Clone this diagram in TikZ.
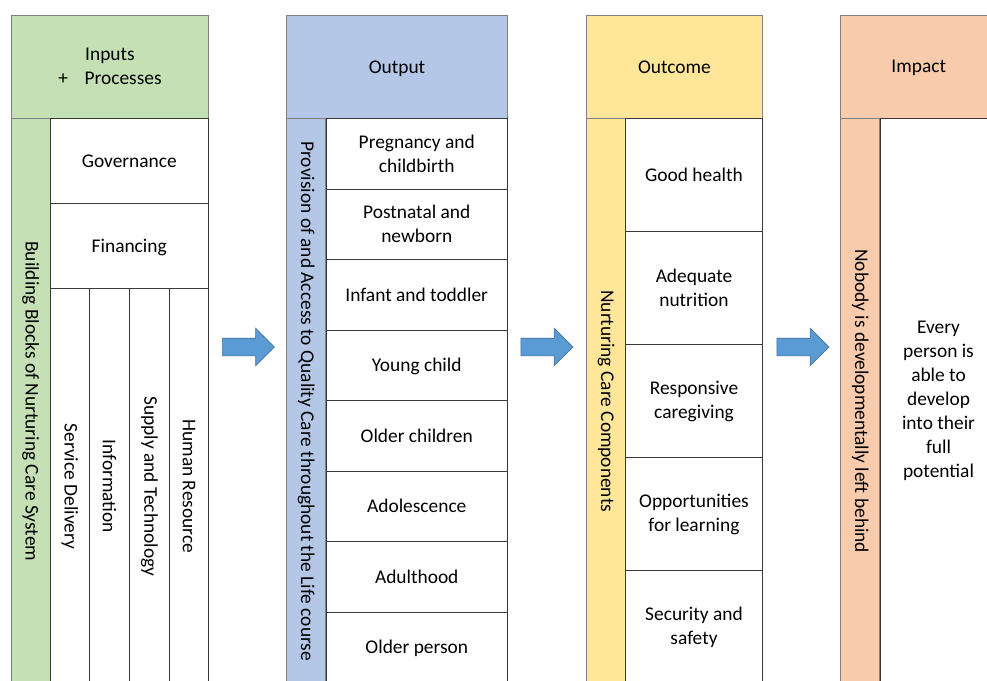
\documentclass[tikz,border=0pt]{standalone}
\usepackage{fontspec}
\setmainfont{Carlito}
\usetikzlibrary{positioning, shapes.arrows}
\definecolor{inputgreen}{HTML}{C5E0B4}
\definecolor{outputblue}{HTML}{B4C7E7}
\definecolor{outcomeyellow}{HTML}{FFE699}
\definecolor{impactpeach}{HTML}{F8CBAD}
\definecolor{arrowfill}{HTML}{5B9BD5}
\definecolor{arrowedge}{HTML}{41719C}
\tikzset{
  cell/.style={draw=black!78, line width=0.8pt, inner sep=1pt, outer sep=0pt,
    align=center, font=\fontsize{19.4}{24}\selectfont},
  head/.style={cell, draw=black!50, anchor=north west, minimum height=103.5pt},
  flat/.style={text depth=0pt},
  strip/.style={cell, draw=black!50, rotate=-90, minimum width=565.5pt, minimum height=39pt},
  block/.style={cell, rotate=-90, minimum width=395.5pt, minimum height=39.5pt},
  stage/.style={cell, minimum width=181.5pt, minimum height=70.5pt},
  part/.style={cell, minimum width=137pt, minimum height=113pt},
  bigarrow/.style={single arrow, draw=arrowedge, line width=0.6pt, fill=arrowfill,
    inner sep=8.5pt, single arrow head extend=10pt, single arrow head indent=0pt,
    minimum height=52pt}
}
\begin{document}
\begin{tikzpicture}[x=1pt, y=-1pt]
    \useasboundingbox (0,0) rectangle (987,680);
    \clip (0,0) rectangle (987,680);

    % inputs and processes
    \node[head, fill=inputgreen, minimum width=197pt] (inputs) at (11.5,15)
      {Inputs\\+\hspace{0.85em}Processes};
    \node[strip, fill=inputgreen] (blocks) at (30.75,401.25)
      {Building Blocks of Nurturing Care System};
    \node[cell, flat, anchor=north west, minimum width=158.5pt, minimum height=85pt]
      (governance) at (50,118.5) {Governance};
    \node[cell, flat, minimum width=158.5pt, minimum height=85pt,
      below=0pt of governance] (financing) {Financing};
    \node[block] (delivery) at (69.75,486.25) {Service Delivery};
    \node[block, minimum height=40pt] (information) at (109.5,486.25) {Information};
    \node[block, minimum height=40pt] (supply) at (149.5,486.25) {Supply and Technology};
    \node[block] (resource) at (189,486.25) {Human Resource};

    % output
    \node[head, flat, fill=outputblue, minimum width=221pt] (output) at (286.5,15) {Output};
    \node[strip, fill=outputblue] (provision) at (306.25,401.25)
      {Provision of and Access to Quality Care throughout the Life course};
    \node[stage, anchor=north west] (pregnancy) at (326,118.5) {Pregnancy and\\childbirth};
    \node[stage, below=0pt of pregnancy] (postnatal) {Postnatal and\\newborn};
    \node[stage, flat, below=0pt of postnatal] (infant) {Infant and toddler};
    \node[stage, flat, below=0pt of infant] (young) {Young child};
    \node[stage, flat, below=0pt of young] (older) {Older children};
    \node[stage, flat, below=0pt of older] (adolescence) {Adolescence};
    \node[stage, flat, below=0pt of adolescence] (adulthood) {Adulthood};
    \node[stage, flat, below=0pt of adulthood] (elderly) {Older person};

    % outcome
    \node[head, flat, fill=outcomeyellow, minimum width=176pt] (outcome) at (586.5,15) {Outcome};
    \node[strip, fill=outcomeyellow] (components) at (606,401.25)
      {Nurturing Care Components};
    \node[part, flat, anchor=north west] (health) at (625.5,118.5) {Good health};
    \node[part, below=0pt of health] (nutrition) {Adequate\\nutrition};
    \node[part, below=0pt of nutrition] (caregiving) {Responsive\\caregiving};
    \node[part, below=0pt of caregiving] (learning) {Opportunities\\for learning};
    \node[part, below=0pt of learning] (security) {Security and\\safety};

    % impact
    \node[head, flat, fill=impactpeach, minimum width=156.5pt] (impact) at (840.5,15) {Impact};
    \node[strip, fill=impactpeach] (nobody) at (860.25,401.25)
      {Nobody is developmentally left behind};
    \node[cell, anchor=north west, minimum width=117pt, minimum height=565.5pt]
      (potential) at (880,118.5)
      {Every\\person is\\able to\\develop\\into their\\full\\potential};

    \node[bigarrow] (toOutput) at (244,347) {};
    \node[bigarrow] (toOutcome) at (542.5,347) {};
    \node[bigarrow] (toImpact) at (798.5,347) {};
\end{tikzpicture}
\end{document}
